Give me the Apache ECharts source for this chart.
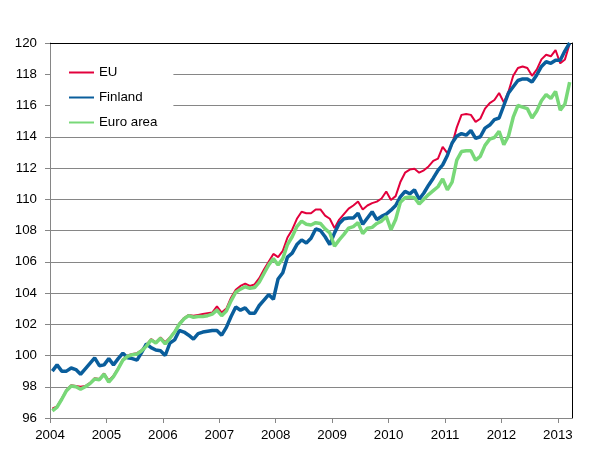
<!DOCTYPE html>
<html>
<head>
<meta charset="utf-8">
<script src="https://cdn.jsdelivr.net/npm/echarts@6/dist/echarts.min.js"></script>
<style>
html,body{margin:0;padding:0;background:#fff;}
#c{width:607px;height:474px;}
</style>
</head>
<body>
<div id="c"></div>
<script>
// Monthly index values, January 2004 .. March 2013
var startYear = 2004;
var seriesNames = ['EU', 'Finland', 'Euro area'];

var euValues = [
  96.6, 96.75, 97.25, 97.8, 98.1, 98.05, 98.0, 98.05, 98.25, 98.55, 98.5, 98.85,
  98.4, 98.7, 99.2, 99.75, 100.0, 100.1, 100.15, 100.35, 100.7, 101.05, 100.85, 101.15,
  100.85, 101.15, 101.55, 102.05, 102.4, 102.6, 102.55, 102.6, 102.65, 102.7, 102.75, 103.15,
  102.75, 103.0, 103.7, 104.2, 104.45, 104.6, 104.45, 104.55, 104.95, 105.5, 106.0, 106.5,
  106.3, 106.7, 107.55, 108.05, 108.75, 109.2, 109.1, 109.1, 109.35, 109.35, 108.95, 108.75,
  108.15, 108.7, 109.05, 109.4, 109.6, 109.85, 109.35, 109.6, 109.75, 109.85, 110.05, 110.5,
  109.95, 110.2, 111.1, 111.7, 111.9, 111.95, 111.7, 111.85, 112.1, 112.45, 112.6, 113.35,
  112.95, 113.5, 114.6, 115.4, 115.45, 115.4, 114.95, 115.15, 115.8, 116.15, 116.35, 116.8,
  116.2, 116.9, 117.9, 118.4, 118.5, 118.4, 117.9, 118.3, 118.95, 119.25, 119.15, 119.55,
  118.7, 118.95, 119.95
];

var finlandValues = [
  99.0, 99.4, 99.0, 99.0, 99.2, 99.1, 98.8, 99.15, 99.5, 99.85, 99.35, 99.4,
  99.8, 99.4, 99.8, 100.15, 99.85, 99.8, 99.7, 100.2, 100.75, 100.5, 100.35, 100.3,
  100.0, 100.8, 101.0, 101.6, 101.5, 101.3, 101.05, 101.4, 101.5, 101.55, 101.6, 101.6,
  101.3, 101.8, 102.5, 103.1, 102.9, 103.05, 102.7, 102.7, 103.2, 103.55, 103.9, 103.6,
  104.9, 105.3, 106.3, 106.55, 107.1, 107.4, 107.2, 107.5, 108.1, 108.0, 107.6, 107.1,
  107.85, 108.45, 108.75, 108.8, 108.8, 109.1, 108.4, 108.8, 109.2, 108.7, 108.9, 109.05,
  109.3, 109.6, 110.15, 110.5, 110.35, 110.6, 110.0, 110.4, 110.9, 111.35, 111.85, 112.2,
  112.8, 113.6, 114.05, 114.2, 114.1, 114.4, 113.9, 114.0, 114.55, 114.75, 115.1, 115.2,
  116.0, 116.8, 117.2, 117.6, 117.7, 117.7, 117.5, 117.95, 118.5, 118.8, 118.7, 118.9,
  118.9, 119.5, 120.0
];

var euroAreaValues = [
  96.45, 96.7, 97.2, 97.75, 98.05, 98.0, 97.85, 98.0, 98.2, 98.5, 98.45, 98.8,
  98.3, 98.65, 99.15, 99.7, 99.95, 100.05, 100.1, 100.3, 100.6, 101.0, 100.8, 101.1,
  100.75, 101.1, 101.5, 102.0, 102.35, 102.55, 102.45, 102.5, 102.5, 102.55, 102.65, 102.9,
  102.55, 102.85, 103.5, 104.05, 104.25, 104.4, 104.3, 104.35, 104.7, 105.25, 105.8, 106.2,
  105.8, 106.2, 107.1, 107.6, 108.25, 108.6, 108.4, 108.35, 108.5, 108.45, 108.1, 107.85,
  107.0, 107.4, 107.75, 108.15, 108.25, 108.5, 107.8, 108.15, 108.2, 108.45, 108.6, 108.9,
  108.05, 108.7, 109.8, 110.1, 110.15, 110.1, 109.7, 110.0, 110.3, 110.55, 110.8, 111.3,
  110.6, 111.1, 112.5, 113.05, 113.1, 113.1, 112.5, 112.75, 113.45, 113.85, 113.95, 114.35,
  113.5, 114.05, 115.25, 116.0, 115.9, 115.8, 115.2, 115.65, 116.3, 116.7, 116.45, 116.9,
  115.7, 116.1, 117.5
];

var yMin = 96, yMax = 120, yStep = 2;
var monthCount = euValues.length;
var xMin = startYear, xMax = startYear + monthCount / 12;

function toPoints(vals) {
  return vals.map(function (v, i) { return [startYear + (i + 0.5) / 12, v]; });
}

var FONT = 'Liberation Sans, Arial, sans-serif';
var chart = echarts.init(document.getElementById('c'), null, {renderer: 'canvas'});
chart.setOption({
  animation: false,
  backgroundColor: '#fff',
  grid: {left: 50, right: 35, top: 43, bottom: 56, containLabel: false},
  legend: {
    data: seriesNames,
    orient: 'vertical',
    left: 51,
    top: 52,
    backgroundColor: '#fff',
    padding: [14, 16, 5, 17],
    itemWidth: 25,
    itemHeight: 14,
    itemGap: 12,
    itemStyle: {opacity: 0, borderWidth: 0},
    textStyle: {fontFamily: FONT, fontSize: 13.3, color: '#000'}
  },
  xAxis: [{
    type: 'value',
    min: xMin,
    max: xMax,
    interval: 1,
    axisLine: {show: true, lineStyle: {color: '#868686', width: 1}},
    axisTick: {show: true, length: 5, lineStyle: {color: '#868686'}},
    axisLabel: {
      fontFamily: FONT, fontSize: 13.3, color: '#000', margin: 11,
      showMaxLabel: false,
      formatter: function (v) { return Math.abs(v - Math.round(v)) < 1e-6 ? String(Math.round(v)) : ''; }
    },
    splitLine: {show: false}
  }, {
    type: 'value',
    position: 'top',
    min: xMin,
    max: xMax,
    axisLine: {show: true, onZero: false, lineStyle: {color: '#000', width: 1}},
    axisTick: {show: false},
    axisLabel: {show: false},
    splitLine: {show: false}
  }],
  yAxis: [{
    type: 'value',
    min: yMin,
    max: yMax,
    interval: yStep,
    axisLine: {show: true, lineStyle: {color: '#868686', width: 1}},
    axisTick: {show: true, length: 5, lineStyle: {color: '#868686'}},
    axisLabel: {fontFamily: FONT, fontSize: 13.3, color: '#000', margin: 13},
    splitLine: {show: true, lineStyle: {color: '#868686', width: 1}}
  }, {
    type: 'value',
    position: 'right',
    min: yMin,
    max: yMax,
    axisLine: {show: true, onZero: false, lineStyle: {color: '#000', width: 1}},
    axisTick: {show: false},
    axisLabel: {show: false},
    splitLine: {show: false}
  }],
  series: [{
    name: 'EU',
    type: 'line',
    xAxisIndex: 0, yAxisIndex: 0,
    data: toPoints(euValues),
    symbol: 'none', showSymbol: false,
    color: '#e2003c',
    lineStyle: {color: '#e2003c', width: 2},
    z: 2
  }, {
    name: 'Finland',
    type: 'line',
    xAxisIndex: 0, yAxisIndex: 0,
    data: toPoints(finlandValues),
    symbol: 'none', showSymbol: false,
    color: '#0a5e9c',
    lineStyle: {color: '#0a5e9c', width: 3.5},
    z: 3
  }, {
    name: 'Euro area',
    type: 'line',
    xAxisIndex: 0, yAxisIndex: 0,
    data: toPoints(euroAreaValues),
    symbol: 'none', showSymbol: false,
    color: '#78d878',
    lineStyle: {color: '#78d878', width: 3.5},
    z: 4
  }]
});
</script>
</body>
</html>
